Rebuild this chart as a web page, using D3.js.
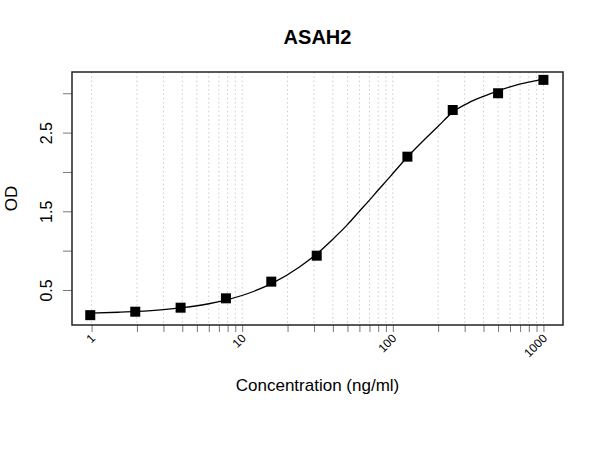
<!DOCTYPE html>
<html>
<head>
<meta charset="utf-8">
<script src="https://cdn.jsdelivr.net/npm/d3@7"></script>
<style>
    body { margin: 0; background: #fff; }
    text { font-family: Arial, "Liberation Sans", sans-serif; }
</style>
</head>
<body>
<div id="chart"></div>
<script>
// Measured standards (concentration in ng/ml, OD)
var concentrations = [0.98, 1.95, 3.9, 7.8, 15.6, 31.25, 125, 250, 500, 1000];
var odValues = [0.18, 0.224, 0.275, 0.394, 0.606, 0.936, 2.194, 2.787, 3.0, 3.17];

// Fitted curve
var curveX = [0.98, 1.5, 2, 3, 4, 6, 8, 12, 16, 24, 32, 40, 50, 60, 70, 80, 90, 100,
              125, 160, 200, 250, 320, 400, 500, 650, 800, 1000];
var curveY = [0.206, 0.217, 0.227, 0.25, 0.275, 0.325, 0.378, 0.484, 0.59, 0.793, 0.975, 1.146,
              1.33, 1.5, 1.642, 1.77, 1.88, 1.98, 2.19, 2.4, 2.58, 2.76, 2.88, 2.96,
              3.03, 3.1, 3.14, 3.18];

// Axis ticks
var yTicks = [0.5, 1.0, 1.5, 2.0, 2.5, 3.0];
var yTickLabels = ["0.5", "", "1.5", "", "2.5", ""];
var xLabelTicks = [1, 10, 100, 1000];
var xGridTicks = [1, 2, 3, 4, 5, 6, 7, 8, 9, 10, 20, 30, 40, 50, 60, 70, 80, 90,
                  100, 200, 300, 400, 500, 600, 700, 800, 900, 1000];

var W = 600, H = 450;
var margin = {left: 72, right: 37, top: 72, bottom: 125};

var svg = d3.select("#chart").append("svg")
    .attr("width", W)
    .attr("height", H);

// Scales (log x with the usual 4% padding)
var x = d3.scaleLog()
    .domain([Math.pow(10, -0.13), Math.pow(10, 3.13)])
    .range([margin.left, W - margin.right]);
var y = d3.scaleLinear()
    .domain([0.055, 3.27])
    .range([H - margin.bottom, margin.top]);

var x0 = margin.left, x1 = W - margin.right;
var y0 = H - margin.bottom, y1 = margin.top;

// Vertical dotted grid
svg.append("g").selectAll("line")
    .data(xGridTicks)
    .enter().append("line")
    .attr("x1", function(d) { return x(d); })
    .attr("x2", function(d) { return x(d); })
    .attr("y1", y1)
    .attr("y2", y0)
    .attr("stroke", "#cccccc")
    .attr("stroke-width", 1)
    .attr("stroke-dasharray", "1.5,2.8");

// Y axis: ticks and rotated labels
var yAxis = svg.append("g")
    .attr("transform", "translate(" + x0 + ",0)")
    .call(d3.axisLeft(y).tickValues(yTicks).tickSize(9).tickFormat(function(d, i) { return yTickLabels[i]; }));
yAxis.select(".domain").remove();
yAxis.selectAll(".tick line").attr("stroke", "#777");
yAxis.selectAll(".tick text")
    .attr("font-size", 16)
    .attr("fill", "#000")
    .attr("text-anchor", "middle")
    .attr("x", 0)
    .attr("dy", 0)
    .attr("transform", "translate(-20,0) rotate(-90)");

// X axis: minor ticks everywhere, labels only at decades
var xAxis = svg.append("g")
    .attr("transform", "translate(0," + y0 + ")")
    .call(d3.axisBottom(x).tickValues(xGridTicks).tickSize(7).tickFormat(function(d) {
        return xLabelTicks.indexOf(d) >= 0 ? d : "";
    }));
xAxis.select(".domain").remove();
xAxis.selectAll(".tick line").attr("stroke", "#777");
xAxis.selectAll(".tick text")
    .attr("font-size", 12)
    .attr("fill", "#000")
    .attr("text-anchor", "end")
    .attr("y", 0)
    .attr("dy", 0)
    .attr("transform", "translate(4,14) rotate(-45)");

// Plot box
svg.append("rect")
    .attr("x", x0)
    .attr("y", y1)
    .attr("width", x1 - x0)
    .attr("height", y0 - y1)
    .attr("fill", "none")
    .attr("stroke", "#222")
    .attr("stroke-width", 1.5);

// Fitted curve
var line = d3.line()
    .x(function(d) { return x(d[0]); })
    .y(function(d) { return y(d[1]); })
    .curve(d3.curveMonotoneX);

svg.append("path")
    .datum(d3.zip(curveX, curveY))
    .attr("d", line)
    .attr("fill", "none")
    .attr("stroke", "#000")
    .attr("stroke-width", 1.3);

// Square markers
var size = 10;
svg.append("g").selectAll("rect")
    .data(d3.zip(concentrations, odValues))
    .enter().append("rect")
    .attr("x", function(d) { return x(d[0]) - size / 2; })
    .attr("y", function(d) { return y(d[1]) - size / 2; })
    .attr("width", size)
    .attr("height", size)
    .attr("fill", "#000");

// Title and axis titles
svg.append("text")
    .attr("x", (x0 + x1) / 2)
    .attr("y", 44)
    .attr("text-anchor", "middle")
    .attr("font-size", 20)
    .attr("font-weight", "bold")
    .text("ASAH2");

svg.append("text")
    .attr("x", (x0 + x1) / 2)
    .attr("y", 391)
    .attr("text-anchor", "middle")
    .attr("font-size", 17)
    .text("Concentration (ng/ml)");

svg.append("text")
    .attr("transform", "translate(17," + (y0 + y1) / 2 + ") rotate(-90)")
    .attr("text-anchor", "middle")
    .attr("font-size", 17)
    .text("OD");
</script>
</body>
</html>
